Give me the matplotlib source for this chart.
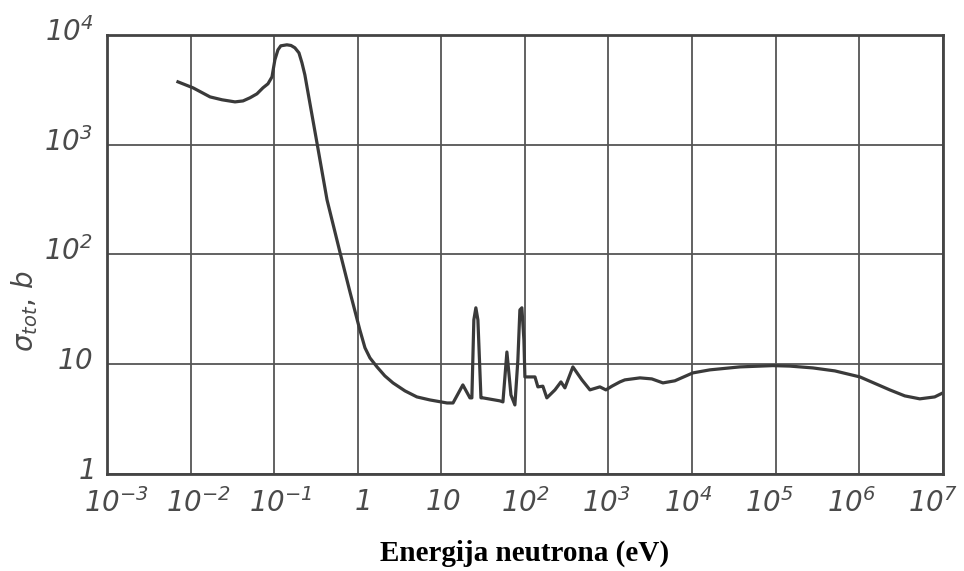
import matplotlib
matplotlib.use("Agg")
import matplotlib.pyplot as plt
import matplotlib.transforms as mtransforms

# total neutron cross section (b) vs neutron energy (eV)
energy = [0.00706, 0.0107, 0.0171, 0.0238, 0.034, 0.0424, 0.0514, 0.0622, 0.0734,
          0.0843, 0.0942, 0.102, 0.111, 0.120, 0.142, 0.159, 0.177, 0.198, 0.215,
          0.233, 0.247, 0.325, 0.429, 0.612, 0.807, 1.06, 1.22, 1.40, 1.70, 2.11,
          2.64, 3.67, 5.10, 7.31, 11.7, 13.8, 18.1, 22.0, 23.2, 24.5, 25.9, 27.4,
          29.8, 31.5, 50.2, 54.6, 60.9, 68.1, 75.9, 82.4, 87.1, 92.0, 97.3, 100,
          115, 132, 143, 164, 183, 229, 270, 301, 375, 481, 600, 789, 931, 1100,
          1370, 1570, 2380, 3300, 4480, 6220, 10200, 16300, 37300, 92700, 148000,
          279000, 511000, 1.02e6, 2.32e6, 3.51e6, 5.31e6, 8.0e6, 1e7]
sigma = [3730, 3290, 2720, 2560, 2450, 2500, 2670, 2900, 3290,
         3580, 4140, 5920, 7300, 7940, 8110, 8000, 7620, 6850, 5560,
         4320, 3360, 1040, 314, 105, 45.5, 20.5, 14.1, 11.4, 9.44, 7.82,
         6.75, 5.71, 5.03, 4.72, 4.43, 4.43, 6.47, 4.93, 4.93, 25.3, 32.6, 25.3,
         4.93, 4.93, 4.63, 4.53, 12.9, 5.24, 4.25, 10.9, 31.2, 32.6, 16.6, 7.65,
         7.65, 7.65, 6.21, 6.3, 4.93, 5.83, 6.89, 6.08, 9.44, 7.19, 5.83, 6.21, 5.83, 6.3,
         6.89, 7.19, 7.50, 7.34, 6.75, 7.05, 8.32, 8.87, 9.44, 9.7, 9.6,
         9.24, 8.68, 7.65, 5.83, 5.14, 4.83, 5.03, 5.47]

x_ticks = [1e-3, 1e-2, 1e-1, 1, 10, 1e2, 1e3, 1e4, 1e5, 1e6, 1e7]
x_labels = [r'$10^{-3}$', r'$10^{-2}$', r'$10^{-1}$', r'$1$', r'$10$', r'$10^{2}$',
            r'$10^{3}$', r'$10^{4}$', r'$10^{5}$', r'$10^{6}$', r'$10^{7}$']
y_ticks = [1, 10, 1e2, 1e3, 1e4]
y_labels = [r'$1$', r'$10$', r'$10^{2}$', r'$10^{3}$', r'$10^{4}$']

plt.rcParams['mathtext.fontset'] = 'custom'
plt.rcParams['mathtext.rm'] = 'DejaVu Sans:italic'
plt.rcParams['mathtext.it'] = 'DejaVu Sans:italic'

ink = '#3a3a3a'
label_col = '#4a4a4a'

fig = plt.figure(figsize=(9.64, 5.71), dpi=100)
ax = fig.add_axes([0.111, 0.170, 0.867, 0.769])

ax.plot(energy, sigma, color=ink, linewidth=2.3, solid_joinstyle='round')

ax.set_xscale('log')
ax.set_yscale('log')
ax.set_xlim(1e-3, 1e7)
ax.set_ylim(1, 1e4)
ax.set_xticks(x_ticks)
ax.set_xticklabels(x_labels, fontsize=20, color=label_col)
ax.set_yticks(y_ticks)
ax.set_yticklabels(y_labels, fontsize=20, color=label_col)
ax.minorticks_off()
ax.tick_params(length=0, pad=10)
ax.grid(True, color='#555555', linewidth=1.3)
for s in ax.spines.values():
    s.set_color('#444444')
    s.set_linewidth(2)

# the scan squeezes the x labels a little towards the middle
n = len(x_ticks)
for i, lab in enumerate(ax.get_xticklabels()):
    shift = 10 - 20 * i / (n - 1)
    off = mtransforms.ScaledTranslation(shift / 100, 0, fig.dpi_scale_trans)
    lab.set_transform(lab.get_transform() + off)
dy = mtransforms.ScaledTranslation(0, 6 / 100, fig.dpi_scale_trans)
for lab in ax.get_yticklabels():
    lab.set_transform(lab.get_transform() + dy)

ax.set_ylabel(r'$\sigma_{tot}$, $b$', fontsize=20, color=label_col)
ax.yaxis.set_label_coords(-0.08, 0.37)
ax.set_xlabel('Energija neutrona (eV)', fontsize=21, fontweight='bold',
              family='Liberation Serif', color='black', labelpad=16)

fig.savefig('out.png', dpi=100, facecolor='white')
